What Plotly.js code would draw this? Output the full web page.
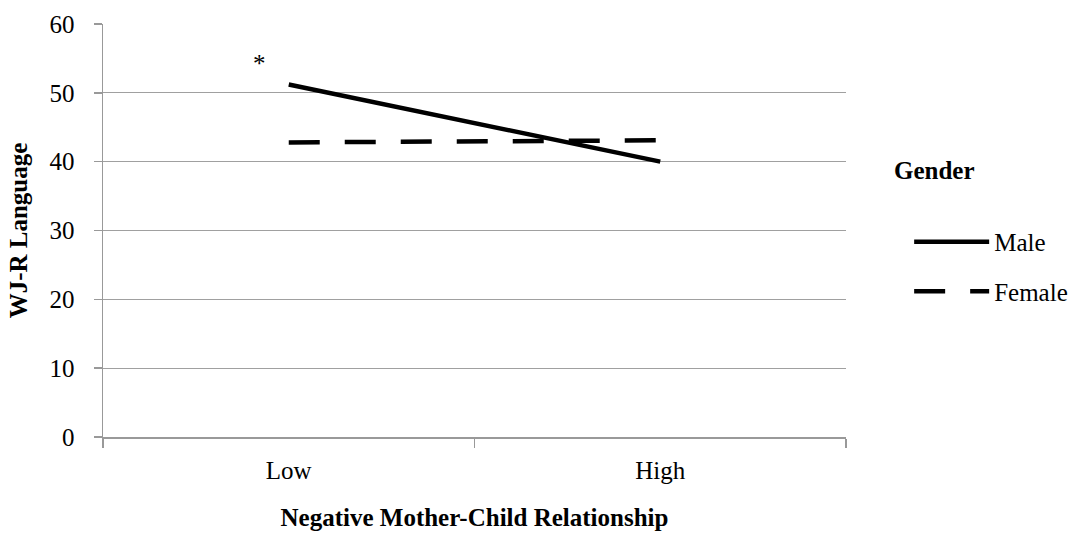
<!DOCTYPE html>
<html><head><meta charset="utf-8">
<script src="https://cdn.plot.ly/plotly-3.0.1.min.js"></script>
<style>html,body{margin:0;padding:0;background:#fff;}#chart{width:1085px;height:536px;}</style>
</head><body><div id="chart"></div>
<script>
const categories = ["Low", "High"];
const maleValues = [51.2, 40.0];
const femaleValues = [42.8, 43.1];
const yTicks = [0, 10, 20, 30, 40, 50, 60];

const font = "Liberation Serif, Times New Roman, serif";
const FS = 25;
const traces = [
  {x: categories, y: maleValues, name: "Male", type: "scatter", mode: "lines", legendgroup: "m",
   line: {color: "#000", width: 4.5}},
  {x: categories, y: femaleValues, name: "Female", type: "scatter", mode: "lines", legendgroup: "f",
   line: {color: "#000", width: 4.5, dash: "31px,25px"}}
];
const layout = {
  width: 1085, height: 536,
  margin: {l: 103, r: 237, t: 24, b: 99},
  paper_bgcolor: "#fff", plot_bgcolor: "#fff",
  font: {family: font, size: FS, color: "#000"},
  showlegend: true,
  legend: {x: 1.085, y: 0.528, xanchor: "left", yanchor: "top",
    itemwidth: 75, tracegroupgap: 14, font: {size: FS}, bgcolor: "rgba(0,0,0,0)"},
  xaxis: {type: "category", range: [-0.5, 1.5], tickson: "boundaries",
    ticks: "outside", ticklen: 9, tickcolor: "#999", tickwidth: 1.5,
    showline: true, linecolor: "#999", linewidth: 1.5, showgrid: false,
    tickfont: {size: FS}, ticklabelstandoff: 10,
    title: {text: "<b>Negative Mother-Child Relationship</b>", font: {size: FS}, standoff: 26}},
  yaxis: {range: [0, 60], tickvals: yTicks, ticks: "outside", ticklen: 8,
    tickcolor: "#999", tickwidth: 1.5, showline: true, linecolor: "#999", linewidth: 1.5,
    showgrid: true, gridcolor: "#a0a0a0", gridwidth: 1.3, zeroline: false,
    tickfont: {size: FS}, ticklabelstandoff: 14,
    title: {text: "<b>WJ-R Language</b>", font: {size: FS}, standoff: 15}},
  annotations: [
    {x: -0.08, y: 54.3, xref: "x", yref: "y", text: "*", showarrow: false, font: {size: FS}},
    {x: 1.176, y: 0.646, xref: "paper", yref: "paper", text: "<b>Gender</b>", showarrow: false, font: {size: FS}}
  ]
};
Plotly.newPlot("chart", traces, layout, {displayModeBar: false, staticPlot: true});
</script></body></html>
